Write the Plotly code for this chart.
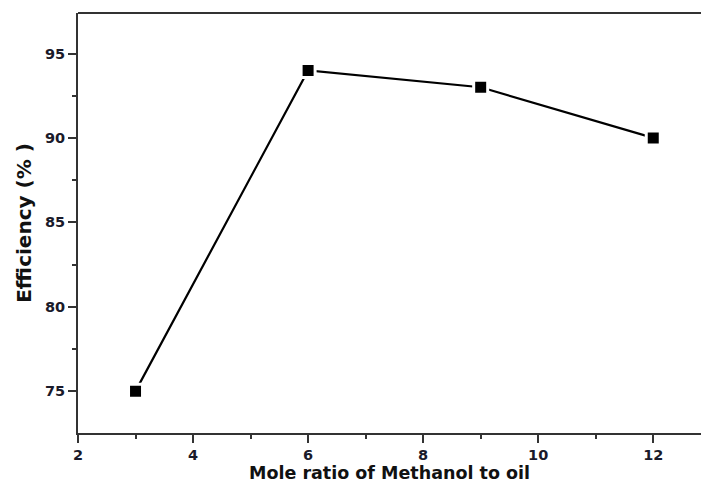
import plotly.graph_objects as go

x_ratio = [3, 6, 9, 12]
efficiency = [75, 94, 93, 90]
x_ticks = [2, 4, 6, 8, 10, 12]
y_ticks = [75, 80, 85, 90, 95]

fig = go.Figure()
fig.add_trace(go.Scatter(
    x=x_ratio, y=efficiency, mode="lines+markers",
    line=dict(color="black", width=2.2),
    marker=dict(symbol="square", size=14, color="black",
                line=dict(color="white", width=3)),
    showlegend=False,
))

axis_font = dict(family="DejaVu Sans", size=14.5, color="#1a1a2a")

fig.update_layout(
    width=701, height=483,
    margin=dict(l=78, r=0, t=13, b=50),
    plot_bgcolor="white", paper_bgcolor="white",
    xaxis=dict(
        range=[2, 12.83], tickvals=x_ticks, ticktext=["<b>%d</b>" % v for v in x_ticks],
        showgrid=False, zeroline=False,
        showline=True, linecolor="#333333", linewidth=2, mirror=False,
        ticks="outside", ticklen=8, tickwidth=2, tickcolor="#333333",
        minor=dict(tickvals=[3, 5, 7, 9, 11], ticks="outside", ticklen=4,
                   tickwidth=2, tickcolor="#333333"),
        tickfont=axis_font,
    ),
    yaxis=dict(
        range=[72.52, 97.4], tickvals=y_ticks, ticktext=["<b>%d</b>" % v for v in y_ticks],
        showgrid=False, zeroline=False,
        showline=True, linecolor="#333333", linewidth=2,
        ticks="outside", ticklen=8, tickwidth=2, tickcolor="#333333",
        minor=dict(tickvals=[77.5, 82.5, 87.5, 92.5], ticks="outside", ticklen=4,
                   tickwidth=2, tickcolor="#333333"),
        tickfont=axis_font,
        title=dict(text="<b>Efficiency (% )</b>",
                   font=dict(family="DejaVu Sans", size=20, color="#111111"), standoff=8),
    ),
    annotations=[dict(text="<b>Mole ratio of Methanol to oil</b>", xref="paper", yref="paper",
                      x=0.5, y=-0.067, xanchor="center", yanchor="top", showarrow=False,
                      font=dict(family="DejaVu Sans", size=17.5, color="#111111"))],
    shapes=[dict(type="line", xref="paper", yref="paper", x0=0, x1=1, y0=1, y1=1,
                 line=dict(color="#333333", width=2))],
)

fig.write_html("out.html")
